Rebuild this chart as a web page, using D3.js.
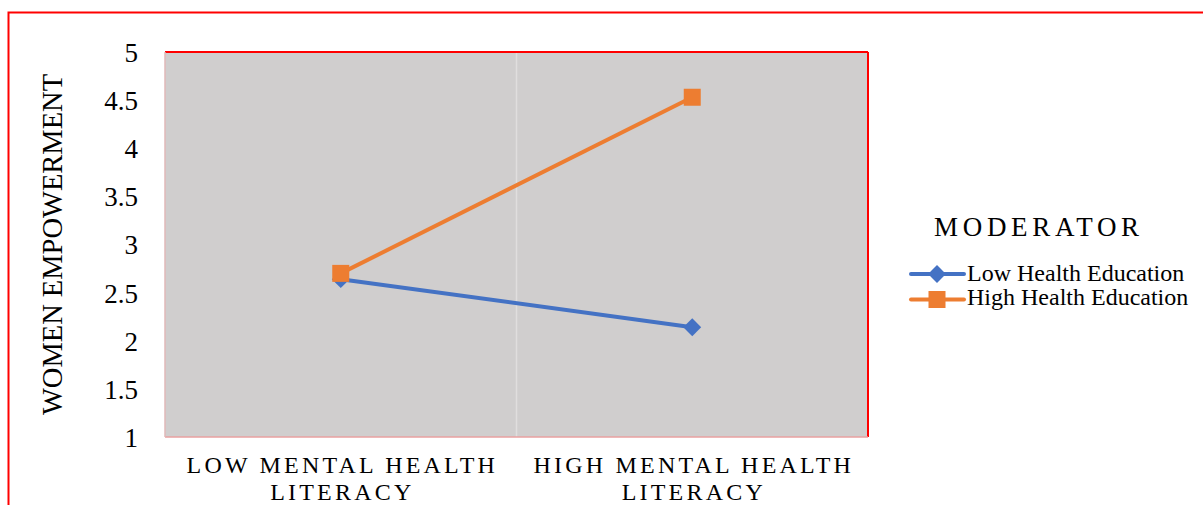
<!DOCTYPE html>
<html><head><meta charset="utf-8">
<script src="https://cdn.jsdelivr.net/npm/d3@7"></script>
<style>body{margin:0;background:#fff}svg{display:block;font-family:"Liberation Serif","Times New Roman",serif}</style>
</head><body>
<svg id="c" width="1203" height="505"></svg>
<script>
const categories = [["LOW MENTAL HEALTH","LITERACY"],["HIGH MENTAL HEALTH","LITERACY"]];
const seriesNames = ["Low Health Education","High Health Education"];
const lowHealthEducation = [2.64, 2.14];
const highHealthEducation = [2.70, 4.53];
const yTicks = [1,1.5,2,2.5,3,3.5,4,4.5,5];
const colors = ["#4472C4","#ED7D31"];

const svg = d3.select("#c");
const m = {l:165, r:868, t:52, b:437};
svg.append("rect").attr("x",8.5).attr("y",12.5).attr("width",1220).attr("height",520)
  .attr("fill","none").attr("stroke","#FF0000").attr("stroke-width",2);

const x = d3.scaleBand().domain([0,1]).range([m.l,m.r]);
const y = d3.scaleLinear().domain([1,5]).range([m.b,m.t]);

svg.append("rect").attr("x",m.l).attr("y",m.t).attr("width",m.r-m.l).attr("height",m.b-m.t).attr("fill","#D0CECE");
svg.append("line").attr("x1",x(1)).attr("x2",x(1)).attr("y1",m.t).attr("y2",m.b).attr("stroke","#E0DEDE").attr("stroke-width",1.5);
svg.append("line").attr("x1",m.l).attr("x2",m.r).attr("y1",m.t).attr("y2",m.t).attr("stroke","#FF0000").attr("stroke-width",2);
svg.append("line").attr("x1",m.r).attr("x2",m.r).attr("y1",m.t).attr("y2",m.b).attr("stroke","#FF0000").attr("stroke-width",2);
svg.append("line").attr("x1",m.l).attr("x2",m.r).attr("y1",m.b).attr("y2",m.b).attr("stroke","#E8A0A0").attr("stroke-width",1.5);
svg.append("line").attr("x1",m.l).attr("x2",m.l).attr("y1",m.t).attr("y2",m.b).attr("stroke","#E0B8B8").attr("stroke-width",1.5);

// y axis
const ya = svg.append("g").attr("transform",`translate(${m.l-27},0)`)
  .call(d3.axisLeft(y).tickValues(yTicks).tickSize(0).tickPadding(0).tickFormat(d3.format("")));
ya.attr("font-family",null).attr("font-size",null);
ya.select(".domain").remove();
ya.selectAll("text").attr("font-family","Liberation Serif").attr("font-size",27).attr("fill","#000").attr("dy","0.35em");

svg.append("text").attr("transform",`translate(62,${(m.t+m.b)/2}) rotate(-90)`).attr("text-anchor","middle")
  .attr("font-size",28.5).attr("fill","#000").text("WOMEN EMPOWERMENT");

// x axis labels
const xa = svg.append("g");
categories.forEach((lines,i)=>{
  lines.forEach((ln,j)=>{
    xa.append("text").attr("x",x(i)+x.bandwidth()/2+1.6).attr("y",473+j*27).attr("text-anchor","middle")
      .attr("font-size",24).attr("letter-spacing",3.2).attr("fill","#000").text(ln);
  });
});

const line = d3.line().x((d,i)=>x(i)+x.bandwidth()/2).y(d=>y(d));
const data = [lowHealthEducation, highHealthEducation];
function marker(g, k, cx, cy){
  if(k===0){
    g.append("path").attr("d",d3.symbol().type(d3.symbolSquare).size(160)()).attr("transform",`translate(${cx},${cy}) rotate(45)`).attr("fill",colors[0]);
  } else {
    g.append("rect").attr("x",cx-8.5).attr("y",cy-8.5).attr("width",17).attr("height",17).attr("fill",colors[1]);
  }
}
data.forEach((vals,k)=>{
  svg.append("path").datum(vals).attr("d",line).attr("fill","none").attr("stroke",colors[k]).attr("stroke-width",4);
});
data.forEach((vals,k)=>{
  vals.forEach((v,i)=>marker(svg,k,x(i)+x.bandwidth()/2,y(v)));
});

// legend
svg.append("text").attr("x",934).attr("y",236).attr("font-size",27).attr("letter-spacing",4.7).attr("fill","#000").text("MODERATOR");
seriesNames.forEach((n,k)=>{
  const ly = 274 + k*25.5;
  svg.append("line").attr("x1",911).attr("x2",964).attr("y1",ly).attr("y2",ly).attr("stroke",colors[k]).attr("stroke-width",4).attr("stroke-linecap","round");
  marker(svg,k,937,ly);
  svg.append("text").attr("x",967).attr("y",281 + k*24).attr("font-size",24).attr("fill","#000").text(n);
});
</script>
</body></html>
